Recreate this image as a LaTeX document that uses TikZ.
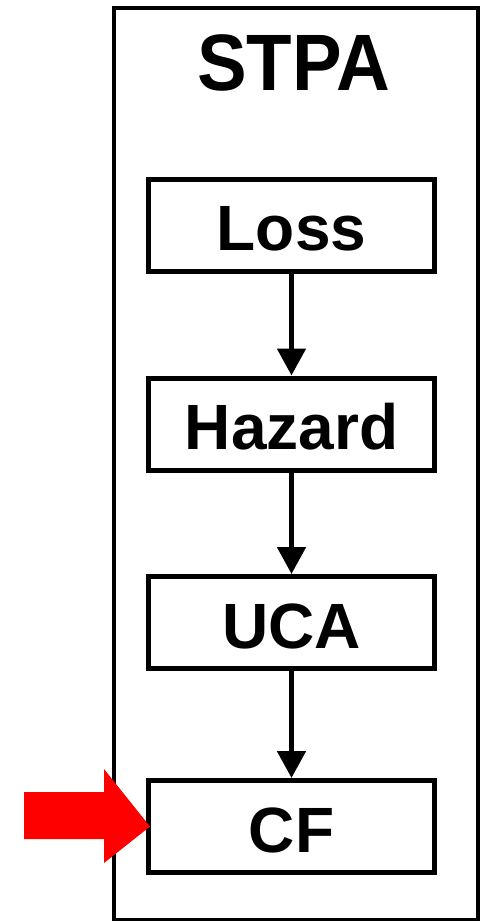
\documentclass[tikz,border=0pt]{standalone}
\usepackage{fontspec}
\setmainfont{Liberation Sans}
\usetikzlibrary{arrows.meta}
\begin{document}
\begin{tikzpicture}[x=1pt,y=-1pt,
  stepbox/.style={draw=black, line width=5pt, minimum width=286pt, minimum height=92pt,
    inner sep=0pt, text height=51pt, text depth=0pt, font=\fontsize{64}{70}\selectfont\bfseries, fill=white},
  flow/.style={draw=black, line width=5pt, -{Triangle[width=28pt,length=27pt]}}]
\useasboundingbox (0,0) rectangle (487,921);
\fill[white] (0,0) rectangle (487,921);
\node[draw=black, line width=4pt, minimum width=364pt, minimum height=912pt, inner sep=0pt, outer sep=0pt] (frame) at (296,463.5) {};
\node[anchor=base, font=\fontsize{80}{90}\selectfont\bfseries, inner sep=0pt] (title) at (293.5,90) {\scalebox{0.93}[1]{STPA}};
\node[stepbox] (loss) at (291.5,225) {Loss};
\node[stepbox] (hazard) at (291.5,424) {Hazard};
\node[stepbox] (uca) at (291.5,622.5) {UCA};
\node[stepbox] (cf) at (291.5,826.5) {CF};
\draw[flow] (loss.south) -- (hazard.north);
\draw[flow] (hazard.south) -- (uca.north);
\draw[flow] (uca.south) -- (cf.north);
\coordinate (redtail) at (24,815.5);
\coordinate (redtip) at ([xshift=4pt]cf.west);
\fill[red] (redtail) ++(0,-23.5) -- (104,792) -- (104,769) -- (redtip) -- (104,863) -- (104,839) -- (24,839) -- cycle;
\end{tikzpicture}
\end{document}
